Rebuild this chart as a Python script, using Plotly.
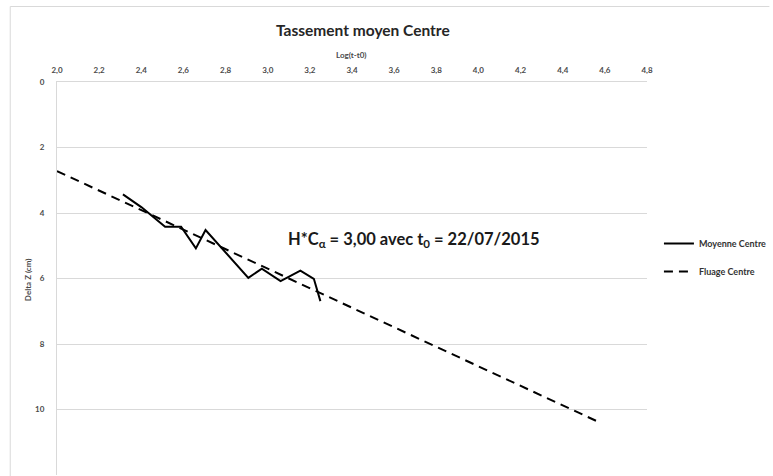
import plotly.graph_objects as go

# Data
moy_x = [2.313, 2.400, 2.513, 2.589, 2.659, 2.705, 2.908, 2.972, 3.061, 3.155, 3.219, 3.250]
moy_y = [3.43, 3.82, 4.42, 4.42, 5.08, 4.52, 5.98, 5.70, 6.08, 5.76, 6.01, 6.69]
flu_x = [2.0, 4.57]
flu_y = [2.72, 10.38]

x_ticks = [2.0, 2.2, 2.4, 2.6, 2.8, 3.0, 3.2, 3.4, 3.6, 3.8, 4.0, 4.2, 4.4, 4.6, 4.8]
y_ticks = [0, 2, 4, 6, 8, 10, 12]

FONT = "Lato"
GRID = "#d9d9d9"
TXT = "#4a4a4a"

fig = go.Figure()
fig.add_trace(go.Scatter(x=moy_x, y=moy_y, mode="lines", name="Moyenne Centre",
                         line=dict(color="black", width=2), legendgroup="a"))
fig.add_trace(go.Scatter(x=flu_x, y=flu_y, mode="lines", name="Fluage Centre",
                         line=dict(color="black", width=2, dash="9px,6px"), legendgroup="b"))

PH = 393.0
PW = 593.0

fig.update_layout(
    width=773, height=476,
    margin=dict(l=57, r=123, t=82, b=1),
    paper_bgcolor="white", plot_bgcolor="white",
    separators=", ",
    font=dict(family=FONT, color=TXT),
    showlegend=True,
    legend=dict(x=(662 - 57) / PW, y=1 - (229 - 82) / PH, xanchor="left", yanchor="top",
                font=dict(size=9, color="#333333", weight="bold"),
                itemwidth=30, tracegroupgap=9, bgcolor="rgba(0,0,0,0)"),
    xaxis=dict(side="top", range=[2.0, 4.8], tickvals=x_ticks, tickformat=".1f",
               showgrid=False, zeroline=False, showline=True, linecolor=GRID, linewidth=1,
               ticks="", ticklabelstandoff=5,
               tickfont=dict(size=8, color=TXT, weight="bold")),
    yaxis=dict(range=[12, 0], tickvals=y_ticks, showgrid=True, gridcolor=GRID, gridwidth=1,
               zeroline=False, showline=True, linecolor=GRID, linewidth=1, ticks="",
               ticklabelstandoff=10,
               tickfont=dict(size=8, color=TXT, weight="bold")),
    shapes=[
        dict(type="line", xref="paper", yref="paper", x0=-47 / PW, x1=716 / PW,
             y0=1 + 75.5 / PH, y1=1 + 75.5 / PH, line=dict(color=GRID, width=1)),
        dict(type="line", xref="paper", yref="paper", x0=-47 / PW, x1=-47 / PW,
             y0=-0.1, y1=1 + 75.5 / PH, line=dict(color=GRID, width=1)),
    ],
    annotations=[
        dict(text="<b>Tassement moyen Centre</b>", xref="paper", yref="paper",
             x=(365 - 57) / PW, y=1 + (82 - 30) / PH, xanchor="center", yanchor="middle",
             showarrow=False, font=dict(size=15.5, color="#262626", family=FONT)),
        dict(text="<b>Log(t-t0)</b>", xref="paper", yref="paper",
             x=(353 - 57) / PW, y=1 + (82 - 55) / PH, xanchor="center", yanchor="middle",
             showarrow=False, font=dict(size=8, color=TXT, family=FONT)),
        dict(text="<b>Delta Z (cm)</b>", xref="paper", yref="paper",
             x=(28 - 57) / PW, y=1 - (280 - 82) / PH, xanchor="center", yanchor="middle",
             textangle=-90, showarrow=False, font=dict(size=8, color=TXT, family=FONT)),
        dict(text="<b>H*C<sub>α</sub> = 3,00 avec t<sub>0</sub> = 22/07/2015</b>", xref="paper", yref="paper",
             x=(287 - 57) / PW, y=1 - (240 - 82) / PH, xanchor="left", yanchor="middle",
             showarrow=False, font=dict(size=16.5, color="#1a1a1a", family=FONT)),
    ],
)

fig.write_html("out.html", config={"displayModeBar": False},
               post_script="document.body.style.margin='0';")
